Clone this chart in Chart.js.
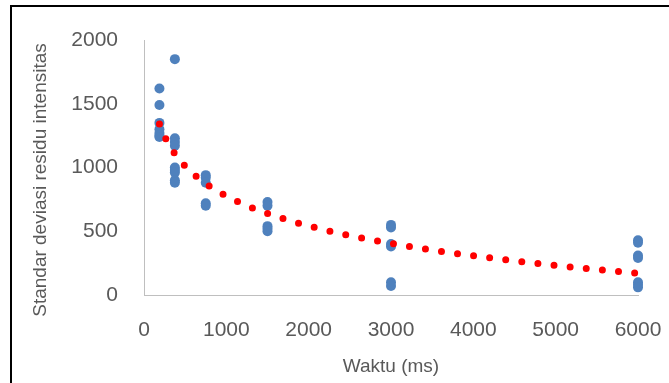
<!DOCTYPE html>
<html>
<head>
<meta charset="utf-8">
<script src="https://cdn.jsdelivr.net/npm/chart.js@4.4.0/dist/chart.umd.min.js"></script>
<style>
  body { margin: 0; background: #fff; }
  #wrap { position: relative; width: 669px; height: 383px; overflow: hidden; }
  #frame {
    position: absolute; left: 10px; top: 5px; width: 700px; height: 376px;
    border-left: 2px solid #000; border-top: 2px solid #000; border-bottom: 1px solid #666;
  }
  canvas { position: absolute; left: 0; top: 0; }
</style>
</head>
<body>
<div id="wrap">
  <div id="frame"></div>
  <canvas id="chart" width="669" height="383"></canvas>
</div>
<script>
// Waktu (ms) for each group of measurements
const waktu = [187.5, 375, 750, 1500, 3000, 6000];

// Standar deviasi residu intensitas, one list per waktu value
const residu = [
    [1620, 1490, 1350, 1300, 1270, 1250, 1240],
    [1850, 1230, 1200, 1170, 1000, 980, 960, 900, 880],
    [940, 920, 880, 720, 700],
    [730, 700, 540, 520, 500],
    [550, 530, 400, 380, 100, 70],
    [430, 410, 310, 290, 100, 80, 60]
];

const xTicks = [0, 1000, 2000, 3000, 4000, 5000, 6000];
const yTicks = [0, 500, 1000, 1500, 2000];

const xTitle = 'Waktu (ms)';
const yTitle = 'Standar deviasi residu intensitas';

// Flatten into scatter points
const points = [];
waktu.forEach((x, i) => {
    residu[i].forEach(y => points.push({ x: x, y: y }));
});

// Logarithmic trendline (least squares on ln x), like Excel's
function logTrend(pts) {
    const n = pts.length;
    let sx = 0, sy = 0, sxx = 0, sxy = 0;
    pts.forEach(p => {
        const lx = Math.log(p.x);
        sx += lx; sy += p.y; sxx += lx * lx; sxy += lx * p.y;
    });
    const a = (n * sxy - sx * sy) / (n * sxx - sx * sx);
    const b = (sy - a * sx) / n;
    return x => a * Math.log(x) + b;
}

const trend = logTrend(points);
const xMin = Math.min(...waktu);
const xMax = Math.max(...waktu);
const trendPoints = [];
for (let i = 0; i <= 300; i++) {
    const x = xMin + (xMax - xMin) * i / 300;
    trendPoints.push({ x: x, y: trend(x) });
}

// Axis titles drawn at Excel-like spots
const axisTitles = {
    id: 'axisTitles',
    afterDraw(chart) {
        const ctx = chart.ctx;
        ctx.save();
        ctx.fillStyle = '#595959';
        ctx.font = '19px "Liberation Sans", Arial, sans-serif';
        ctx.textAlign = 'center';
        ctx.textBaseline = 'middle';
        ctx.fillText(xTitle, 391, 367);
        ctx.translate(41, 180);
        ctx.rotate(-Math.PI / 2);
        ctx.fillText(yTitle, 0, 0);
        ctx.restore();
    }
};

const tickFont = { family: '"Liberation Sans", Arial, sans-serif', size: 21 };

const ctx = document.getElementById('chart').getContext('2d');
new Chart(ctx, {
    type: 'scatter',
    data: {
        datasets: [{
            data: trendPoints,
            showLine: true,
            borderColor: '#ff0000',
            borderWidth: 7,
            borderDash: [0, 16.2],
            borderCapStyle: 'round',
            pointRadius: 0,
            tension: 0,
            clip: false,
            order: 0
        }, {
            data: points,
            backgroundColor: '#4f81bd',
            borderColor: '#4f81bd',
            pointRadius: 5,
            borderWidth: 0,
            clip: false,
            order: 1
        }]
    },
    options: {
        responsive: false,
        animation: false,
        events: [],
        layout: { padding: { left: 0, top: 40, right: 31, bottom: 0 } },
        plugins: {
            legend: { display: false },
            tooltip: { enabled: false }
        },
        scales: {
            x: {
                type: 'linear',
                min: 0,
                max: 6000,
                afterBuildTicks: s => { s.ticks = xTicks.map(v => ({ value: v })); },
                afterFit: s => { s.height = 88; s.paddingLeft = 0; s.paddingRight = 0; },
                grid: { display: false, drawTicks: false },
                border: { color: '#bfbfbf', width: 1 },
                ticks: {
                    color: '#595959',
                    font: tickFont,
                    padding: 23,
                    maxRotation: 0,
                    callback: v => String(v)
                }
            },
            y: {
                min: 0,
                max: 2000,
                afterBuildTicks: s => { s.ticks = yTicks.map(v => ({ value: v })); },
                afterFit: s => { s.width = 144; s.paddingTop = 0; s.paddingBottom = 0; },
                grid: { display: false, drawTicks: false },
                border: { color: '#bfbfbf', width: 1 },
                ticks: {
                    color: '#595959',
                    font: tickFont,
                    padding: 26,
                    callback: v => String(v)
                }
            }
        }
    },
    plugins: [axisTitles]
});
</script>
</body>
</html>
